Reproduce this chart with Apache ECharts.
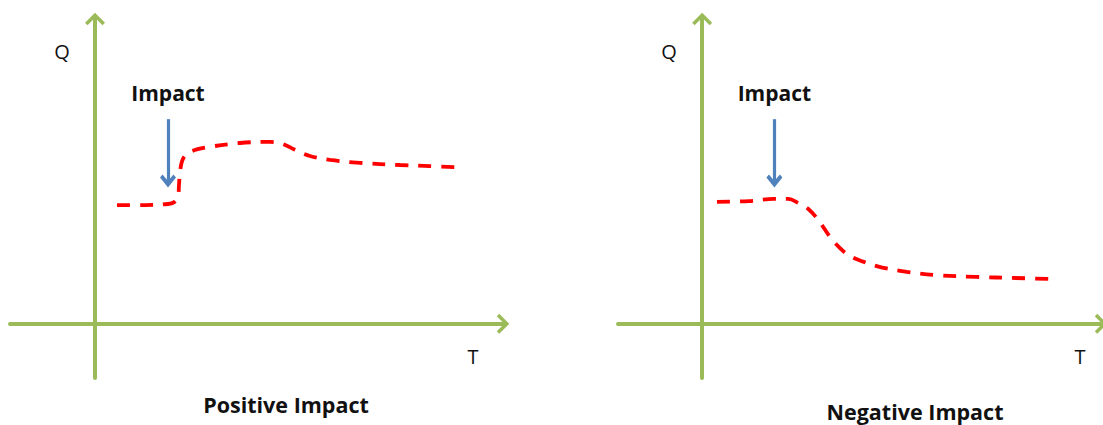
<!DOCTYPE html>
<html>
<head>
<meta charset="utf-8">
<script src="https://cdn.jsdelivr.net/npm/echarts@6/dist/echarts.min.js"></script>
<style>
  html, body { margin: 0; padding: 0; background: #ffffff; }
  #chart { width: 1103px; height: 425px; }
</style>
</head>
<body>
<div id="chart"></div>
<script>
// Quantity Q over time T, before and after an impact (axis units)
const positiveT = [4.4, 10.0, 14.6, 15.8, 16.6, 16.8, 17.0, 17.6, 19.0, 22.0, 29.0, 35.0, 37.6, 40.0, 43.0, 47.0, 53.0, 61.0, 67.0, 72.4];
const positiveQ = [32.9, 32.9, 33.2, 33.7, 35.4, 38.5, 42.1, 45.7, 47.6, 48.8, 50.1, 50.4, 49.8, 48.2, 46.5, 45.4, 44.6, 44.0, 43.7, 43.4];

const negativeT = [3.0, 9.4, 14.4, 17.4, 19.4, 21.4, 23.4, 26.4, 29.4, 32.4, 36.4, 41.4, 47.4, 55.4, 63.4, 71.4];
const negativeQ = [33.8, 34.0, 34.6, 34.6, 33.5, 31.9, 28.9, 23.1, 19.2, 17.3, 15.6, 14.4, 13.5, 13.0, 12.7, 12.4];

// Moment of impact and the span of the pointer above the curve
const impactT = 14.6;
const impactQ = [56.7, 39.6];

const panelTitles = ['Positive Impact', 'Negative Impact'];
const axisNames = ['Q', 'T'];
const impactLabel = 'Impact';

// Axis extents per panel
const tExtent = [[-17, 82], [-17, 81]];
const qExtent = [-15, 85];

const GREEN = '#9bbb59';
const RED = '#ff0000';
const BLUE = '#4f81bd';
const FONT = '"Open Sans", "Noto Sans", sans-serif';

// open chevron arrow heads
const chevron = 'path://M10,0 L20,10 L17.5,12.5 L10,5 L2.5,12.5 L0,10 Z';
const pointerHead = 'path://M10,0 L20,10 L16.8,13.2 L10,6.4 L3.2,13.2 L0,10 Z';

const axisLine = {
  show: true,
  onZero: true,
  symbol: ['none', chevron],
  symbolSize: [20, 12.5],
  symbolOffset: [0, -2],
  lineStyle: { color: GREEN, width: 4 }
};
const hidden = { axisTick: { show: false }, axisLabel: { show: false }, splitLine: { show: false } };

function makeX(i) {
  return Object.assign({ type: 'value', gridIndex: i, min: tExtent[i][0], max: tExtent[i][1], axisLine }, hidden);
}
function makeY(i) {
  return Object.assign({ type: 'value', gridIndex: i, min: qExtent[0], max: qExtent[1], axisLine }, hidden);
}

function curve(i, ts, qs) {
  return {
    type: 'line',
    xAxisIndex: i, yAxisIndex: i,
    data: ts.map((t, k) => [t, qs[k]]),
    smooth: 0.35,
    symbol: 'none',
    silent: true,
    lineStyle: { color: RED, width: 3.8, type: [13, 10], cap: 'butt' },
    markLine: {
      silent: true,
      animation: false,
      symbol: ['none', pointerHead],
      symbolSize: [16, 13],
      lineStyle: { color: BLUE, width: 3.2, type: 'solid' },
      label: {
        show: true, position: 'start', distance: 16,
        formatter: impactLabel,
        color: '#111', fontFamily: FONT, fontWeight: 'bold', fontSize: 21
      },
      data: [[{ coord: [impactT, impactQ[0]] }, { coord: [impactT, impactQ[1]] }]]
    }
  };
}

function text(x, y, str, bold, size) {
  return {
    type: 'text', x, y, silent: true,
    style: {
      text: str, fill: '#111', font: (bold ? 'bold ' : '') + size + 'px ' + FONT,
      align: 'center', verticalAlign: 'middle'
    }
  };
}

const chart = echarts.init(document.getElementById('chart'), null, { renderer: 'svg' });
chart.setOption({
  animation: false,
  backgroundColor: '#ffffff',
  grid: [
    { left: 10, width: 495, top: 17, height: 361 },
    { left: 618, width: 490, top: 17, height: 361 }
  ],
  xAxis: [makeX(0), makeX(1)],
  yAxis: [makeY(0), makeY(1)],
  series: [curve(0, positiveT, positiveQ), curve(1, negativeT, negativeQ)],
  graphic: [
    text(62, 51, axisNames[0], false, 20),
    text(473, 356, axisNames[1], false, 20),
    text(669, 51, axisNames[0], false, 20),
    text(1080, 356, axisNames[1], false, 20),
    text(286, 404, panelTitles[0], true, 21.5),
    text(915, 411, panelTitles[1], true, 21.5)
  ]
});
</script>
</body>
</html>
